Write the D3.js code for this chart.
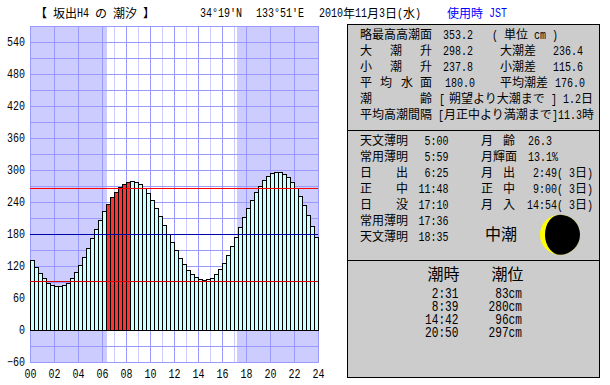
<!DOCTYPE html>
<html><head><meta charset="utf-8">
<script src="https://cdnjs.cloudflare.com/ajax/libs/d3/7.8.5/d3.min.js"></script>
<style>html,body{margin:0;padding:0;background:#fff}svg{display:block}</style>
</head><body><svg id="c" width="610" height="385"></svg>
<script>
// 20-minute tide heights (cm)
const tideLevels = [131,118,107,97.5,89,84,82,82,84,89,97.5,109,121,137,154,172,189,206,223,236,249,259,268,274,
278,279,278,274,266,257,244,229,214,197,180,165,150,135,124,113,105,99,96,94,96,97.5,105,114,
126,141,157.5,174,193,212,229,244,259,270,281,289,294,296,296,292.5,287,277.5,266,251,234,216,195,174];
const highlightBars = [19,20,21,22,23,24];
const yTicks = [-60,0,60,120,180,240,300,360,420,480,540];
const xTicks = [0,2,4,6,8,10,12,14,16,18,20,22,24];
const sunriseHour = 6 + 25/60, sunsetHour = 17 + 10/60;
const refLines = [{v:266,c:"#ff0000"},{v:180,c:"#0000aa"},{v:92,c:"#dd0000"}];
const headerTexts = [["【 坂出H4 の 潮汐 】",35],["34°19'N",200],["133°51'E",256],["2010年11月3日(水)",319]];
const tideTable = [["2:31","83cm"],["8:39","280cm"],["14:42","96cm"],["20:50","297cm"]];

const svg = d3.select("#c");
const x = d3.scaleLinear().domain([0,24]).range([30,318]);
const y = d3.scaleLinear().domain([-60,570]).range([362,26]);
const MONO = "'Liberation Mono','DejaVu Sans Mono',monospace", CJK = "'Noto Sans CJK JP','Noto Sans CJK SC',sans-serif";
const isCJK = ch => ch.charCodeAt(0) > 0x2000;

// cell-grid text: half-width chars take `hw`, full-width chars take 2*hw
function put(str, px, cy, opt={}) {
  const hw = opt.hw || 6, fill = opt.fill || "#000";
  let cx = px;
  const runs = [];
  for (const ch of str) {
    const wide = isCJK(ch);
    const last = runs[runs.length-1];
    if (last && last.wide === wide) last.s += ch; else runs.push({wide, s:ch});
  }
  const total = runs.reduce((a,r)=>a+[...r.s].length*(r.wide?2*hw:hw),0);
  if (opt.end) cx = px - total;
  for (const r of runs) {
    const n = [...r.s].length, w = n*(r.wide?2*hw:hw);
    // trim surrounding blanks so a run never claims space it does not draw
    const lead = r.s.length - r.s.trimStart().length, body = r.s.trim();
    if (body) {
      const t = svg.append("text").attr("fill",fill).text(body);
      if (r.wide) {
        t.attr("x",cx).attr("y",cy+0.36*2*hw).attr("font-family",CJK).attr("font-size",2*hw);
      } else {
        const fs = hw*2.05, sx = hw/(fs*0.6);
        t.attr("font-family",MONO).attr("font-size",fs)
         .attr("transform",`translate(${cx+lead*hw},${cy+0.32*fs}) scale(${sx},1)`);
      }
    }
    cx += w;
  }
}

// plot background
svg.append("rect").attr("x",x(0)).attr("y",y(570)).attr("width",x(24)-x(0)).attr("height",y(-60)-y(570)).attr("fill","#fff");
svg.append("rect").attr("x",x(0)).attr("y",y(570)).attr("width",x(sunriseHour)-x(0)).attr("height",y(-60)-y(570)).attr("fill","#ccccff");
svg.append("rect").attr("x",x(sunsetHour)+1).attr("y",y(570)).attr("width",x(24)-x(sunsetHour)-1).attr("height",y(-60)-y(570)).attr("fill","#ccccff");
// grid
const grid = svg.append("g").attr("shape-rendering","crispEdges");
d3.range(1,24,2).forEach(h=>grid.append("line").attr("x1",x(h)+.5).attr("x2",x(h)+.5).attr("y1",y(570)).attr("y2",y(-60)).attr("stroke","#ccccff"));
d3.range(0,25,2).forEach(h=>grid.append("line").attr("x1",x(h)+.5).attr("x2",x(h)+.5).attr("y1",y(570)).attr("y2",y(-60)).attr("stroke","#9999ff"));
d3.range(-60,571,30).forEach(v=>grid.append("line").attr("x1",x(0)).attr("x2",x(24)+1).attr("y1",y(v)+.5).attr("y2",y(v)+.5).attr("stroke","#9999ff"));
// bars
svg.append("g").attr("shape-rendering","crispEdges").selectAll("rect").data(tideLevels).join("rect")
  .attr("x",(d,i)=>x(i/3)+.5).attr("width",(d,i)=>x((i+1)/3)-x(i/3))
  .attr("y",d=>Math.round(y(d))+.5).attr("height",d=>y(0)-Math.round(y(d)))
  .attr("fill",(d,i)=>highlightBars.includes(i)?"#ff3333":"#ccffff").attr("stroke","#000");
// reference lines
const rl = svg.append("g").attr("shape-rendering","crispEdges");
refLines.forEach(r=>rl.append("line").attr("x1",x(0)).attr("x2",x(24)).attr("y1",Math.round(y(r.v))+.5).attr("y2",Math.round(y(r.v))+.5).attr("stroke",r.c));

// axes
const ay = svg.append("g").attr("transform","translate(30,0)").call(d3.axisLeft(y).tickValues(yTicks).tickSize(0).tickPadding(5));
const ax = svg.append("g").attr("transform","translate(0,369.5)").call(d3.axisBottom(x).tickValues(xTicks).tickSize(0).tickPadding(0).tickFormat(d3.format("02")));
[ay,ax].forEach(a=>{a.select(".domain").remove();
  a.selectAll("text").attr("font-family",MONO).attr("font-size",12.3).attr("fill","#000")
   .attr("lengthAdjust","spacingAndGlyphs").attr("textLength",function(){return this.textContent.length*6;});
});

// header
headerTexts.forEach(([s,px])=>put(s,px,13.5));
put("使用時 JST",447,13.5,{fill:"#0000ff"});

// right panels
const panel = svg.append("g").attr("shape-rendering","crispEdges");
[[24,130],[130,260],[260,377]].forEach(([t,b])=>panel.append("rect").attr("x",347.5).attr("y",t+.5).attr("width",252).attr("height",b-t).attr("fill","#cccccc").attr("stroke","#000"));

// panel 1
const p1 = [
 [["略最高高潮面",360],["353.2",443],["( 単位 cm )",492]],
 [["大",360],["潮",390],["升",420],["298.2",443],["大潮差",500],["236.4",553]],
 [["小",360],["潮",390],["升",420],["237.8",443],["小潮差",500],["115.6",553]],
 [["平",360],["均",380],["水",401],["面",420],["180.0",445],["平均潮差",500],["176.0",555]],
 [["潮",360],["齢",420],["[",439],["朔望より大潮まで",449],["]",551],["1.2日",563]],
 [["平均高潮間隔",360],["[月正中より満潮まで]11.3時",438]]
];
p1.forEach((row,i)=>row.forEach(([s,px])=>put(s,px,35+16*i)));

// panel 2
const p2 = [
 [["天文薄明",360],["月",481],["齢",503],["26.3",528]],
 [["常用薄明",360],["月輝面",481],["13.1%",528]],
 [["日",360],["出",396],["月",481],["出",503]],
 [["正",360],["中",396],["正",481],["中",503]],
 [["日",360],["没",396],["月",481],["入",503]],
 [["常用薄明",360]],
 [["天文薄明",360]]
];
const sunTimes = ["5:00","5:59","6:25","11:48","17:10","17:36","18:35"];
const moonTimes = [null,null,"2:49( 3日)","9:00( 3日)","14:54( 3日)"];
p2.forEach((row,i)=>{
  const cy = 141+16*i;
  row.forEach(([s,px])=>put(s,px,cy));
  put(sunTimes[i],448.5,cy,{end:true});
  if (moonTimes[i]) put(moonTimes[i],593,cy,{end:true});
});
put("中潮",485,234.5,{hw:8});

// moon
const mx=560,my=234.7,mr=20,tr=15;
svg.append("circle").attr("cx",mx).attr("cy",my).attr("r",mr).attr("fill","#ffff00");
svg.append("path").attr("fill","#000").attr("d",`M${mx},${my-mr}A${mr},${mr} 0 0 1 ${mx},${my+mr}A${tr},${mr} 0 0 1 ${mx},${my-mr}Z`);

// panel 3
put("潮時",427.5,274,{hw:8});
put("潮位",491.5,274,{hw:8});
tideTable.forEach(([t,h],i)=>{
  const cy = 294+13*i;
  put(t,458.5,cy,{hw:6.7,end:true});
  put(h,522,cy,{hw:6.7,end:true});
});
</script></body></html>
